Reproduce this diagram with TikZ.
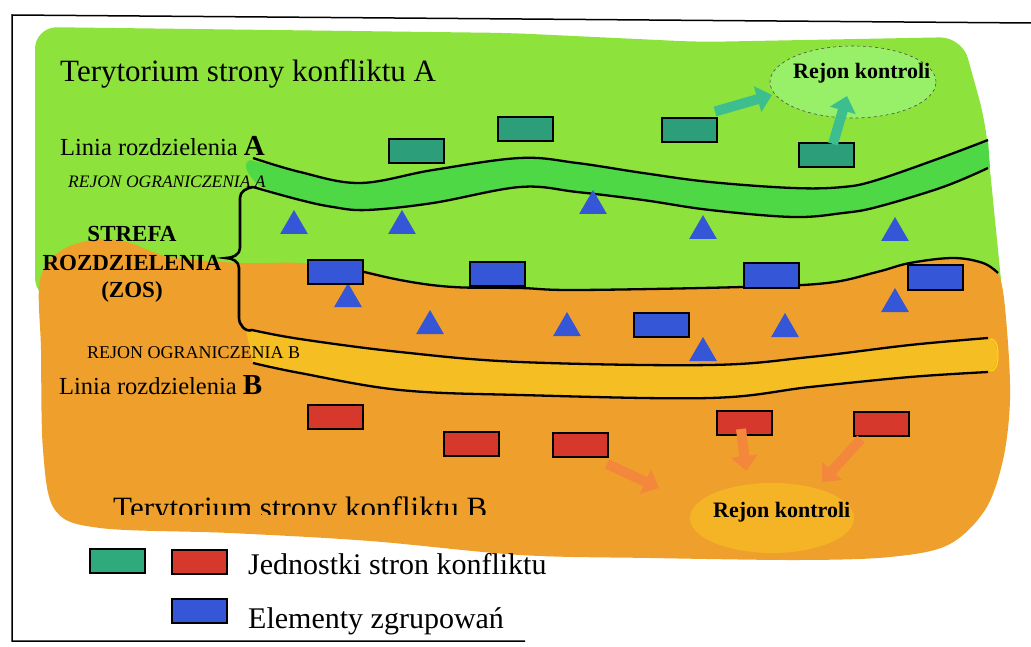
\documentclass[tikz,border=0pt]{standalone}
\usepackage{fontspec}
\setmainfont{Liberation Serif}
\usetikzlibrary{shapes.geometric,arrows.meta}
\definecolor{landA}{HTML}{8DE23C}
\definecolor{bandA}{HTML}{4FD846}
\definecolor{ellA}{HTML}{97F067}
\definecolor{landB}{HTML}{EFA02C}
\definecolor{bandB}{HTML}{F5BE22}
\definecolor{ellB}{HTML}{F4B426}
\definecolor{unitA}{HTML}{2C9E7A}
\definecolor{unitAleg}{HTML}{2FAA7C}
\definecolor{unitB}{HTML}{D6392B}
\definecolor{grp}{HTML}{3656D8}
\definecolor{arrA}{HTML}{3CBE8E}
\definecolor{arrB}{HTML}{F3873B}
\tikzset{
  unitbox/.style={draw=black,line width=2pt,minimum width=55pt,minimum height=24pt,inner sep=0pt},
  tri/.style={regular polygon,regular polygon sides=3,minimum size=32pt,inner sep=0pt,fill=grp},
  bline/.style={draw=black,line width=2.3pt},
  fatA/.style={arrA,line width=10pt,-{Triangle[length=15pt,width=26pt]}},
  fatB/.style={arrB,line width=10pt,-{Triangle[length=15pt,width=26pt]}},
  lbl/.style={inner sep=0pt,anchor=base west},
}
\begin{document}
\begin{tikzpicture}[x=1pt,y=-1pt]
\useasboundingbox (0,0) rectangle (1031,647);
\fill[white] (0,0) rectangle (1031,647);
% frame
\draw[line width=1.5pt] (1031,23) -- (12,15) -- (12,641) -- (525,641);
% green territory
\fill[landA,rounded corners=22pt] (35,300) -- (35,27) -- (510,33) -- (700,42) -- (962,37) -- (985,120) -- (1003,300) -- cycle;
% orange territory
\fill[landB] plot[smooth cycle,tension=0.55] coordinates {
  (40,280) (62,250) (100,239) (130,243) (170,257) (240,263) (300,263) (363,270) (400,280) (453,287) (520,288)
  (577,290) (743,287) (827,283) (877,272) (910,263) (953,258) (983,263) (1000,278) (1007,330) (1010,400)
  (1003,460) (985,510) (948,545) (890,557) (800,560) (650,558) (520,555) (370,541) (230,533) (100,528)
  (55,510) (43,450) (41,350)};
% band A fill
\fill[bandA] plot[smooth,tension=0.6] coordinates {(250,160) (300,172) (360,183) (433,170) (520,158) (577,163) (643,173) (710,182) (793,188) (843,187) (877,180) (943,157) (988,140)}
  -- (990,168) -- plot[smooth,tension=0.6] coordinates {(988,168) (943,187) (877,207) (843,213) (793,217) (710,210) (643,200) (577,192) (520,187) (433,203) (367,210) (333,207) (300,200) (262,187)} to[out=150,in=200] cycle;
% band B fill
\fill[bandB] plot[smooth,tension=0.6] coordinates {(246,330) (270,335) (300,340) (400,352) (520,362) (710,365) (810,357) (910,345) (988,339)}
  to[out=0,in=0] (988,371) -- plot[smooth,tension=0.6] coordinates {(988,372) (910,377) (810,387) (710,398) (520,395) (400,390) (300,373) (253,363)} -- cycle;
\draw[yellow!85!orange,line width=1pt] (990,339) to[out=0,in=90] (998,355) to[out=270,in=0] (990,371);
% control areas
\node[ellipse,draw=black!70,dashed,line width=0.6pt,fill=ellA,minimum width=166pt,minimum height=72pt,inner sep=0pt] (rkA) at (853,82) {};
\node[lbl] (rkAt) at (793,79) {\fontsize{22}{24}\selectfont\bfseries Rejon kontroli};
\node[ellipse,fill=ellB,minimum width=164pt,minimum height=70pt,inner sep=0pt] (rkB) at (772,518) {};
\node[lbl] (rkBt) at (713,517) {\fontsize{22}{24}\selectfont\bfseries Rejon kontroli};
% black lines
\draw[bline] plot[smooth,tension=0.6] coordinates {(253,158) (300,172) (360,183) (433,170) (520,158) (577,163) (643,173) (710,182) (793,188) (843,187) (877,180) (943,157) (988,140)};
\draw[bline] plot[smooth,tension=0.6] coordinates {(253,187) (300,200) (333,207) (367,210) (433,203) (520,187) (577,192) (643,200) (710,210) (793,217) (843,213) (877,207) (943,187) (988,168)};
\draw[bline,line width=2.6pt] (253,187) to[out=190,in=90] (240,198) -- (240,248) to[out=270,in=0] (226,258) to[out=0,in=90] (239,268) -- (239,318) to[out=270,in=200] (252,330);
\draw[bline] plot[smooth,tension=0.6] coordinates {(252,330) (300,339) (400,352) (520,362) (710,365) (810,357) (910,345) (988,338)};
\draw[bline] plot[smooth,tension=0.6] coordinates {(253,363) (300,373) (400,390) (520,395) (710,398) (810,387) (910,377) (988,372)};
\draw[bline] plot[smooth,tension=0.6] coordinates {(340,266) (400,280) (453,287) (520,288) (577,290) (743,287) (827,283) (877,272) (910,263) (953,258) (983,263) (998,273)};
% triangles
\node[tri] (t1) at (294,226) {};
\node[tri] (t2) at (402,226) {};
\node[tri] (t3) at (593,206) {};
\node[tri] (t4) at (703,231) {};
\node[tri] (t5) at (895,233) {};
\node[tri] (t6) at (348,299) {};
\node[tri] (t7) at (430,326) {};
\node[tri] (t8) at (567,328) {};
\node[tri] (t9) at (785,329) {};
\node[tri] (t10) at (895,304) {};
\node[tri] (t11) at (703,353) {};
% teal units
\node[unitbox,fill=unitA] (g1) at (416.5,151.5) {};
\node[unitbox,fill=unitA] (g2) at (525.5,129) {};
\node[unitbox,fill=unitA] (g3) at (689.5,130.5) {};
\node[unitbox,fill=unitA] (g4) at (826,155) {};
% blue groups
\node[unitbox,fill=grp] (b1) at (335,272) {};
\node[unitbox,fill=grp] (b2) at (497.5,274) {};
\node[unitbox,fill=grp] (b3) at (771,275.5) {};
\node[unitbox,fill=grp] (b4) at (935.5,277.5) {};
\node[unitbox,fill=grp] (b5) at (661.5,324.5) {};
% red units
\node[unitbox,fill=unitB] (r1) at (335,416.5) {};
\node[unitbox,fill=unitB] (r2) at (471,444) {};
\node[unitbox,fill=unitB] (r3) at (580.5,445) {};
\node[unitbox,fill=unitB] (r4) at (744,423) {};
\node[unitbox,fill=unitB] (r5) at (881,424) {};
% arrows
\coordinate (a1) at (772,95);
\coordinate (a2) at (847,96);
\coordinate (a3) at (659,488);
\coordinate (a4) at (746,471);
\coordinate (a5) at (822,482);
\draw[fatA] ([xshift=-3pt,yshift=6pt]g3.north east) -- (a1);
\draw[fatA] ([xshift=7pt,yshift=-2pt]g4.north) -- (a2);
\draw[fatB] ([xshift=-2pt,yshift=-6pt]r3.south east) -- (a3);
\draw[fatB] ([xshift=-3pt,yshift=-6pt]r4.center) -- (a4);
\draw[fatB] ([xshift=-20pt,yshift=-2pt]r5.south) -- (a5);
% texts
\node[lbl] (tA) at (60,82) {\fontsize{31}{33}\selectfont Terytorium strony konfliktu A};
\node[lbl] (lA) at (60,156) {\fontsize{24.5}{26}\selectfont Linia rozdzielenia \fontsize{29}{30}\selectfont\bfseries A};
\node[lbl] (rA) at (68,188) {\fontsize{17.5}{19}\selectfont\itshape REJON OGRANICZENIA A};
\node[inner sep=0pt,anchor=base] (z1) at (132,242) {\fontsize{23}{25}\selectfont\bfseries STREFA};
\node[inner sep=0pt,anchor=base] (z2) at (132,271) {\fontsize{23}{25}\selectfont\bfseries ROZDZIELENIA};
\node[inner sep=0pt,anchor=base] (z3) at (132,297) {\fontsize{23}{25}\selectfont\bfseries (ZOS)};
\node[lbl] (rB) at (87,358) {\fontsize{18}{20}\selectfont REJON OGRANICZENIA B};
\node[lbl] (lB) at (59,394) {\fontsize{24.5}{26}\selectfont Linia rozdzielenia \fontsize{29}{30}\selectfont\bfseries B};
\begin{scope}
\clip (0,0) rectangle (1031,514);
\node[lbl] (tB) at (113,518) {\fontsize{31}{33}\selectfont Terytorium strony konfliktu B};
\end{scope}
% legend
\node[unitbox,fill=unitAleg] (lg) at (117.5,560.5) {};
\node[unitbox,fill=unitB] (lr) at (199,561.5) {};
\node[unitbox,fill=grp] (lb) at (199,610.5) {};
\node[lbl] (lt1) at (248,574) {\fontsize{30}{32}\selectfont Jednostki stron konfliktu};
\node[lbl] (lt2) at (248,628) {\fontsize{30}{32}\selectfont Elementy zgrupowań};
\end{tikzpicture}
\end{document}
